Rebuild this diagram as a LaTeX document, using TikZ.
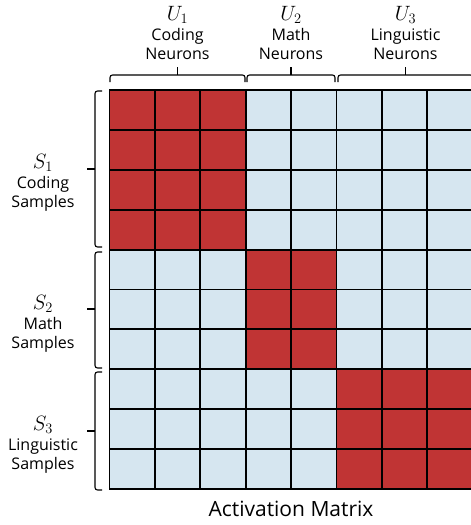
\documentclass[tikz,border=0pt]{standalone}
\usepackage{fontspec}
\setmainfont{Open Sans}
\usetikzlibrary{positioning}
\definecolor{actred}{RGB}{192,52,52}
\definecolor{actblue}{RGB}{214,230,240}

\begin{document}
\begin{tikzpicture}[
  x=1pt, y=-1pt,
  cell/.style={draw, line width=1.9pt, minimum width=45.4pt, minimum height=39.9pt,
    inner sep=0pt, fill=actblue},
  hot/.style={fill=actred},
  bracket/.style={line width=1.1pt, rounded corners=2.5pt},
  grp/.style={align=center, font=\fontsize{16}{19.5}\selectfont},
  sym/.style={font=\fontsize{21}{22}\selectfont}
]
  \useasboundingbox (0,0) rectangle (471,525);

  % activation matrix: 10 samples x 8 neurons
  \foreach \r in {0,...,9} {
    \foreach \c in {0,...,7} {
      \pgfmathtruncatemacro\isHot{(\r<4 && \c<3) || (\r>3 && \r<7 && \c>2 && \c<5) || (\r>6 && \c>4)}
      \ifnum\isHot=1
        \node[cell, hot] (c-\r-\c) at ({109.5+45.4*(\c+0.5)},{90+39.9*(\r+0.5)}) {};
      \else
        \node[cell] (c-\r-\c) at ({109.5+45.4*(\c+0.5)},{90+39.9*(\r+0.5)}) {};
      \fi
    }
  }

  % neuron groups
  \coordinate (u1a) at (110,82);  \coordinate (u1b) at (245,82);  \coordinate (u1t) at (177.5,67);
  \coordinate (u2a) at (247,82);  \coordinate (u2b) at (335,82);  \coordinate (u2t) at (291,67);
  \coordinate (u3a) at (338,82);  \coordinate (u3b) at (473,82);  \coordinate (u3t) at (405.5,67);
  \foreach \g in {u1,u2,u3} {
    \draw[bracket] (\g a) -- ++(0,-7) -| (\g b);
    \draw[bracket] (\g t) -- ++(0,8);
  }

  \node[grp] (u1) at (177.5,33) {{\fontsize{21}{22}\selectfont$U_1$}\\Coding\\Neurons};
  \node[grp] (u2) at (291,33) {{\fontsize{21}{22}\selectfont$U_2$}\\Math\\Neurons};
  \node[grp] (u3) at (405.5,33) {{\fontsize{21}{22}\selectfont$U_3$}\\Linguistic\\Neurons};

  % sample groups
  \coordinate (s1a) at (102,247); \coordinate (s1b) at (102,91);  \coordinate (s1t) at (87,169);
  \coordinate (s2a) at (102,368); \coordinate (s2b) at (102,252); \coordinate (s2t) at (87,309);
  \coordinate (s3a) at (102,490); \coordinate (s3b) at (102,372); \coordinate (s3t) at (87,431);
  \foreach \g in {s1,s2,s3} {
    \draw[bracket] (\g a) -- ++(-7,0) |- (\g b);
    \draw[bracket] (\g t) -- ++(8,0);
  }

  \node[grp] (s1) at (43,183) {{\fontsize{21}{22}\selectfont$S_1$}\\Coding\\Samples};
  \node[grp] (s2) at (43,324) {{\fontsize{21}{22}\selectfont$S_2$}\\Math\\Samples};
  \node[grp] (s3) at (43,445) {{\fontsize{21}{22}\selectfont$S_3$}\\Linguistic\\Samples};

  \node[font=\fontsize{21}{25}\selectfont] (title) at (291,509) {Activation Matrix};
\end{tikzpicture}
\end{document}
